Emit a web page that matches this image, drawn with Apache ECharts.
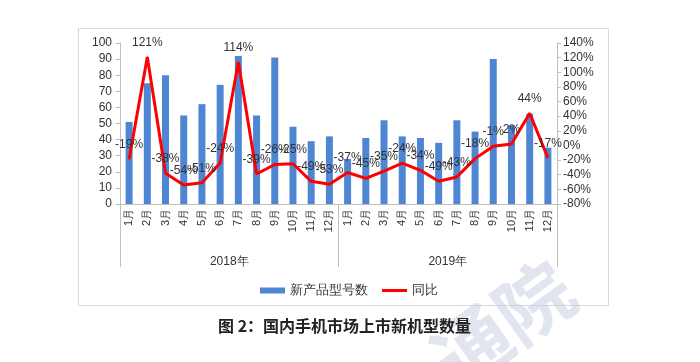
<!DOCTYPE html>
<html>
<head>
<meta charset="utf-8">
<script src="https://cdn.jsdelivr.net/npm/echarts@6/dist/echarts.min.js"></script>
<style>html,body{margin:0;padding:0;background:#fff;}#c{width:700px;height:362px;}</style>
</head>
<body>
<div id="c"></div>
<script>
var months = ['1月','2月','3月','4月','5月','6月','7月','8月','9月','10月','11月','12月',
              '1月','2月','3月','4月','5月','6月','7月','8月','9月','10月','11月','12月'];
var years = ['2018年','2019年'];
var newModels = [51,75,80,55,62,74,92,55,91,48,39,42, 28,41,52,42,41,38,52,45,90,49,56,35];
var yoy = [-19,121,-38,-54,-51,-24,114,-39,-26,-25,-49,-53, -37,-45,-35,-24,-34,-49,-43,-18,-1,2,44,-17];
var barName = '新产品型号数';
var lineName = '同比';
var titleText = '图 2：国内手机市场上市新机型数量';

var chart = echarts.init(document.getElementById('c'), null, {renderer:'canvas'});
var font = 'Liberation Sans, Arial, sans-serif';
var axisGray = '#bfbfbf';
chart.setOption({
  animation:false,
  textStyle:{fontFamily:font},
  grid:{left:120, right:143, top:43, bottom:158, containLabel:false},
  legend:{
    data:[{name:barName, icon:'rect'},{name:lineName, icon:'path://M0,0 L25,0 L25,3 L0,3 Z'}],
    left:255, top:279, itemWidth:25, itemHeight:6, itemGap:14,
    textStyle:{fontSize:13, color:'#333', fontFamily:font}
  },
  graphic:[
    {type:'rect', shape:{x:78.5,y:28.5,width:530,height:277}, style:{fill:'none', stroke:'#d9d9d9', lineWidth:1}, z:-10, silent:true},
    {type:'text', x:503, y:324, rotation:0.62, z:-5, silent:true,
     style:{text:'通院', fontSize:76, fontWeight:'bold', fill:'rgba(195,204,224,0.5)', align:'center', verticalAlign:'middle', fontFamily:'Noto Sans CJK SC'}},
    {type:'text', left:218, top:318, style:{text:titleText, fontSize:16, fontWeight:'bold', fill:'#222', fontFamily:'Noto Sans CJK SC'}}
  ],
  xAxis:[
    {type:'category', data:months, position:'bottom',
     axisLine:{onZero:false, lineStyle:{color:axisGray}},
     axisTick:{length:36, lineStyle:{color:axisGray}},
     splitLine:{show:false},
     axisLabel:{rotate:90, interval:0, margin:5, fontSize:11, color:'#333'}},
    {type:'category', data:years, position:'bottom', offset:0,
     axisLine:{show:false, onZero:false},
     axisTick:{show:true, length:63, lineStyle:{color:axisGray}},
     splitLine:{show:false},
     axisLabel:{margin:52, fontSize:12, color:'#333'}}
  ],
  yAxis:[
    {type:'value', min:0, max:100, interval:10, position:'left',
     axisLine:{show:true, onZero:false, lineStyle:{color:axisGray}},
     axisTick:{show:true, length:4, lineStyle:{color:axisGray}},
     splitLine:{show:false},
     axisLabel:{fontSize:12, color:'#333', margin:8}},
    {type:'value', min:-80, max:140, interval:20, position:'right',
     axisLine:{show:true, onZero:false, lineStyle:{color:axisGray}},
     axisTick:{show:true, length:4, lineStyle:{color:axisGray}},
     splitLine:{show:false},
     axisLabel:{fontSize:12, color:'#333', margin:6, formatter:'{value}%'}}
  ],
  series:[
    {name:barName, type:'bar', data:newModels, xAxisIndex:0, yAxisIndex:0, barWidth:7,
     itemStyle:{color:'#4f86d4'}},
    {name:lineName, type:'line', data:yoy, xAxisIndex:0, yAxisIndex:1,
     symbol:'circle', symbolSize:1, showSymbol:true,
     lineStyle:{color:'#ff0000', width:3}, itemStyle:{color:'#ff0000'},
     z:5,
     label:{show:true, position:'top', distance:8, formatter:'{c}%', fontSize:12, color:'#333'}}
  ]
});
</script>
</body>
</html>
